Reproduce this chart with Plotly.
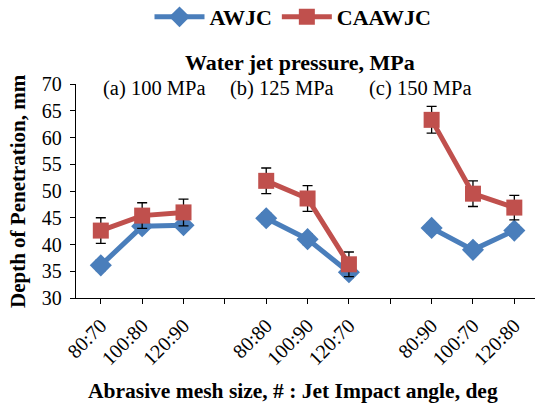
import plotly.graph_objects as go

# Data
tick_labels = ["80:70", "100:80", "120:90", "", "80:80", "100:90", "120:70", "", "80:90", "100:70", "120:80"]
positions = list(range(len(tick_labels)))
awjc = [36.1, 43.4, 43.6, None, 44.9, 41.0, 34.8, None, 43.1, 39.0, 42.6]
awjc_err = [1.0, 0.9, 0.9, None, 1.0, 1.0, 1.0, None, 0.9, 1.0, 1.0]
caawjc = [42.6, 45.4, 46.0, None, 51.9, 48.6, 36.3, None, 63.3, 49.5, 46.9]
caawjc_err = [2.4, 2.4, 2.5, None, 2.4, 2.4, 2.3, None, 2.5, 2.4, 2.3]
group_labels = ["(a) 100 MPa", "(b) 125 MPa", "(c) 150 MPa"]

blue = "#4a7ebb"
red = "#c0504d"
font = "Liberation Serif, Times New Roman, serif"

fig = go.Figure()
fig.add_trace(go.Scatter(
    x=positions, y=awjc, name="<b>AWJC</b>", mode="lines+markers",
    line=dict(color=blue, width=5),
    marker=dict(symbol="diamond", size=17, color=blue),
    error_y=dict(type="data", array=awjc_err, color="black", thickness=1.3, width=5),
    connectgaps=False,
))
fig.add_trace(go.Scatter(
    x=positions, y=caawjc, name="<b>CAAWJC</b>", mode="lines+markers",
    line=dict(color=red, width=5),
    marker=dict(symbol="square", size=16, color=red),
    error_y=dict(type="data", array=caawjc_err, color="black", thickness=1.3, width=5),
    connectgaps=False,
))

L, T, W, H = 76, 84, 459, 214
def px(x):
    return (x - L) / W
def py(y):
    return (T + H - y) / H

annotations = [
    dict(text="<b>Water jet pressure, MPa</b>", x=px(300), y=py(62), font=dict(size=22)),
    dict(text=group_labels[0], x=px(154), y=py(88), font=dict(size=20.5)),
    dict(text=group_labels[1], x=px(282), y=py(88), font=dict(size=20.5)),
    dict(text=group_labels[2], x=px(420), y=py(88), font=dict(size=20.5)),
    dict(text="<b>Abrasive mesh size, # : Jet Impact angle, deg</b>", x=px(293), y=py(391), font=dict(size=21.5)),
    dict(text="<b>Depth of Penetration, mm</b>", x=px(18), y=py(191), font=dict(size=21), textangle=-90),
]
for a in annotations:
    a.update(xref="paper", yref="paper", showarrow=False, xanchor="center", yanchor="middle")

fig.update_layout(
    width=536, height=410,
    margin=dict(l=L, r=536 - L - W, t=T, b=410 - T - H),
    paper_bgcolor="white", plot_bgcolor="white",
    font=dict(family=font, color="black", size=20),
    showlegend=True,
    legend=dict(orientation="h", xref="container", yref="container",
                x=293 / 536, y=1 - 17 / 410, xanchor="center", yanchor="middle",
                font=dict(size=22, family=font), itemwidth=50, traceorder="normal"),
    annotations=annotations,
)
fig.update_xaxes(
    range=[-0.6, 10.5], tickvals=positions, ticktext=tick_labels, tickangle=-45,
    showline=True, linecolor="black", linewidth=1.3, ticks="outside", ticklen=5,
    tickcolor="black", showgrid=False, zeroline=False, tickfont=dict(size=20),
    ticklabelstandoff=2,
)
fig.update_yaxes(
    range=[30, 70], dtick=5, showline=True, linecolor="black", linewidth=1.3,
    ticks="outside", ticklen=5, tickcolor="black", showgrid=False, zeroline=False,
    tickfont=dict(size=20), ticklabelstandoff=4,
)

fig.write_html("out.html")
